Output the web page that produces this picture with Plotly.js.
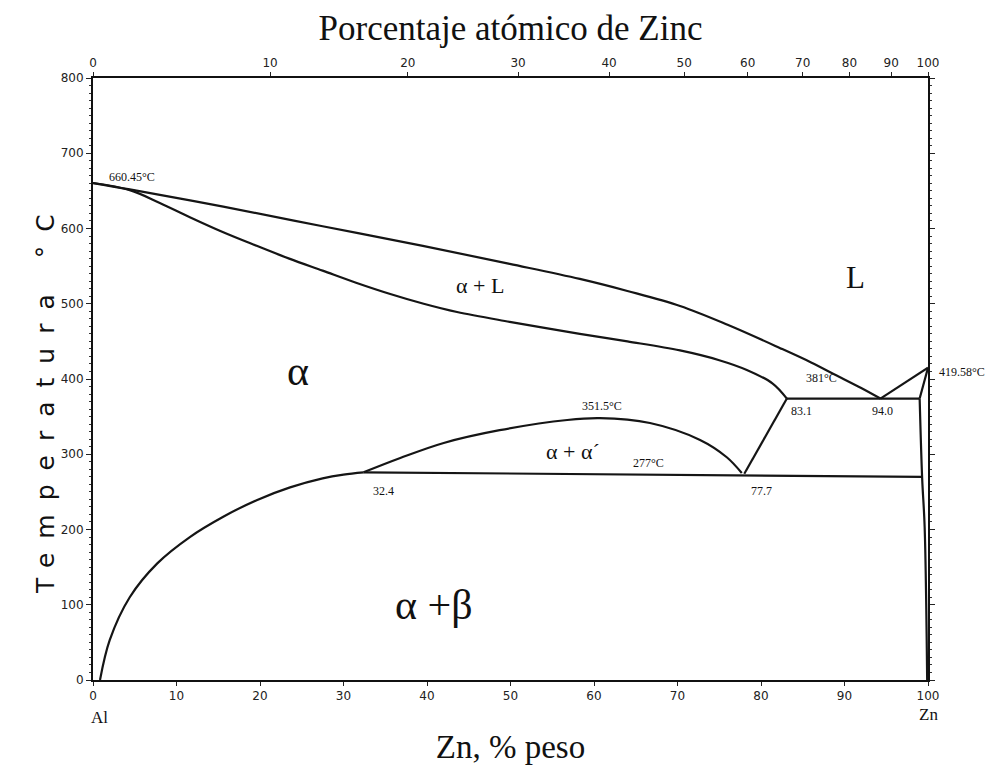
<!DOCTYPE html>
<html>
<head>
<meta charset="utf-8">
<script src="https://cdn.plot.ly/plotly-3.0.1.min.js"></script>
<style>body{margin:0;background:#fff}#chart{width:990px;height:775px}</style>
</head>
<body>
<div id="chart"></div>
<script>
// Liquidus (Al side) : 660.45 °C down to eutectic
const liqX = [0, 4.4, 15.6, 27.5, 39.5, 49.9, 58.3, 64, 70.3, 76, 82.3, 86, 89, 92, 94.3];
const liqT = [660.45, 652, 629, 603, 577, 553, 533, 517, 497, 472, 441, 422, 405, 388, 374];
// Solidus (alpha)
const solX = [0, 4.4, 8, 11.6, 15.6, 19.6, 23.5, 27.5, 31.5, 35.6, 39.6, 43.6, 49.9, 58.3, 64, 70.3, 75, 78.3, 81.4, 83.1];
const solT = [660.45, 651, 634, 615, 595, 577, 560, 544, 528, 513, 500, 489, 476, 460, 450, 438, 425, 412, 394, 374];
// Eutectic horizontal (381 °C)
const eutX = [83.1, 99.0];
const eutT = [374, 374];
// Zn-side liquidus and solidus
const znLiqX = [94.3, 100];
const znLiqT = [374, 415];
const znSolX = [99.0, 100];
const znSolT = [374, 415];
// Zn solvus
const znSolvX = [99.0, 99.3, 99.6, 99.9];
const znSolvT = [374, 268, 203, 0];
// Monotectoid horizontal (277 °C)
const monoX = [32.4, 99.3];
const monoT = [276, 270];
// Miscibility gap (alpha + alpha')
const domeX = [32.4, 36.8, 42, 48.7, 56.8, 60.7, 66.7, 72.7, 75.9, 77.7];
const domeT = [276, 295, 315, 332, 345.5, 348, 341.5, 319, 296, 275];
// alpha' boundary 77.7 -> 83.1
const connX = [78.0, 83.1];
const connT = [274, 374];
// Al-side solvus
const solvX = [0.84, 2.0, 4.4, 7.7, 11.6, 15.6, 19.6, 23.6, 27.5, 30, 32.4];
const solvT = [0, 53, 110, 155, 190, 217, 239, 256, 268, 273, 276];

// Axis ticks
const wtTicks = [0, 10, 20, 30, 40, 50, 60, 70, 80, 90, 100];
const tempTicks = [0, 100, 200, 300, 400, 500, 600, 700, 800];
const atTickPos = [0, 21.2, 37.7, 50.9, 61.8, 70.8, 78.4, 85.0, 90.6, 95.6, 100];
const atTickText = ['0', '10', '20', '30', '40', '50', '60', '70', '80', '90', '100'];

// Labels (inside the plot)
const labelText = ['660.45°C', '381°C', '83.1', '94.0', '351.5°C', '277°C', '32.4', '77.7'];
const labelX = [4.7, 87.3, 84.9, 94.6, 61.0, 66.5, 34.8, 80.0];
const labelT = [669, 401, 358, 358, 364, 289, 251, 251];
const phaseText = ['α + L', 'L', 'α', 'α + α´', 'α +β'];
const phaseX = [46.3, 91.3, 24.6, 57.5, 40.8];
const phaseT = [524, 535, 410, 303, 100];
const phaseSize = [22, 31, 42, 22, 42];

const lineStyle = {color: '#151515', width: 2.2};
function tr(x, y, smooth) {
  return {x: x, y: y, type: 'scatter', mode: 'lines', showlegend: false, hoverinfo: 'skip',
    line: Object.assign({}, lineStyle, smooth ? {shape: 'spline', smoothing: 1.0} : {})};
}
const data = [
  tr(liqX, liqT, true), tr(solX, solT, true), tr(eutX, eutT), tr(znLiqX, znLiqT),
  tr(znSolX, znSolT), tr(znSolvX, znSolvT, true), tr(monoX, monoT), tr(domeX, domeT, true),
  tr(connX, connT), tr(solvX, solvT, true),
  {x: [0, 100], y: [0, 0], type: 'scatter', mode: 'none', xaxis: 'x2', yaxis: 'y', showlegend: false, hoverinfo: 'skip'}
];

const serif = 'Liberation Serif';
const annotations = [];
labelText.forEach((t, i) => annotations.push({x: labelX[i], y: labelT[i], text: t, showarrow: false,
  xref: 'x', yref: 'y', xanchor: 'center', font: {family: serif, size: 12, color: '#111'}}));
phaseText.forEach((t, i) => annotations.push({x: phaseX[i], y: phaseT[i], text: t, showarrow: false,
  xref: 'x', yref: 'y', xanchor: 'center', font: {family: serif, size: phaseSize[i], color: '#111'}}));
annotations.push({x: 1.011, y: 409, text: '419.58°C', showarrow: false, xref: 'paper', yref: 'y',
  xanchor: 'left', font: {family: serif, size: 12, color: '#111'}});
annotations.push({x: 0.008, y: -0.063, text: 'Al', showarrow: false, xref: 'paper', yref: 'paper',
  xanchor: 'center', yanchor: 'middle', font: {family: serif, size: 17, color: '#111'}});
annotations.push({x: 1.0, y: -0.058, text: 'Zn', showarrow: false, xref: 'paper', yref: 'paper',
  xanchor: 'center', yanchor: 'middle', font: {family: serif, size: 17, color: '#111'}});
annotations.push({x: -0.0575, y: 0.47, text: 'Temperatura °C', showarrow: false, xref: 'paper', yref: 'paper',
  xanchor: 'center', yanchor: 'middle',
  textangle: -90, font: {family: 'DejaVu Sans', size: 25, color: '#111'}});

const tickFont = {family: 'DejaVu Sans', size: 12, color: '#222'};
const layout = {
  width: 990, height: 775,
  margin: {l: 93, r: 62, t: 78, b: 95},
  paper_bgcolor: '#fff', plot_bgcolor: '#fff',
  xaxis: {range: [0, 100], tickvals: wtTicks, ticks: 'outside', ticklen: 4, tickcolor: '#222',
    showline: true, linecolor: '#111', linewidth: 2, showgrid: false, zeroline: false,
    tickfont: tickFont,
    title: {text: 'Zn, % peso', font: {family: serif, size: 33, color: '#111'}, standoff: 32}},
  xaxis2: {range: [0, 100], overlaying: 'x', side: 'top', tickvals: atTickPos, ticktext: atTickText,
    ticks: 'outside', ticklen: 4, tickcolor: '#222', showline: true, linecolor: '#111', linewidth: 2,
    showgrid: false, zeroline: false, tickfont: tickFont,
    title: {text: 'Porcentaje atómico de Zinc', font: {family: serif, size: 35, color: '#111'}, standoff: 5}},
  yaxis: {range: [0, 800], tickvals: tempTicks, ticks: 'outside', ticklen: 5, tickcolor: '#222',
    showline: true, linecolor: '#111', linewidth: 2, mirror: 'ticks', showgrid: false, zeroline: false,
    tickfont: tickFont, minor: {dtick: 10, ticks: 'outside', ticklen: 2, tickcolor: '#333'}},
  annotations: annotations
};
Plotly.newPlot('chart', data, layout, {displayModeBar: false, staticPlot: true}).then(() => {
  document.querySelectorAll('.annotation-text').forEach(el => {
    if (el.textContent.indexOf('Temperatura') === 0) el.style.letterSpacing = '14px';
  });
});
</script>
</body>
</html>
